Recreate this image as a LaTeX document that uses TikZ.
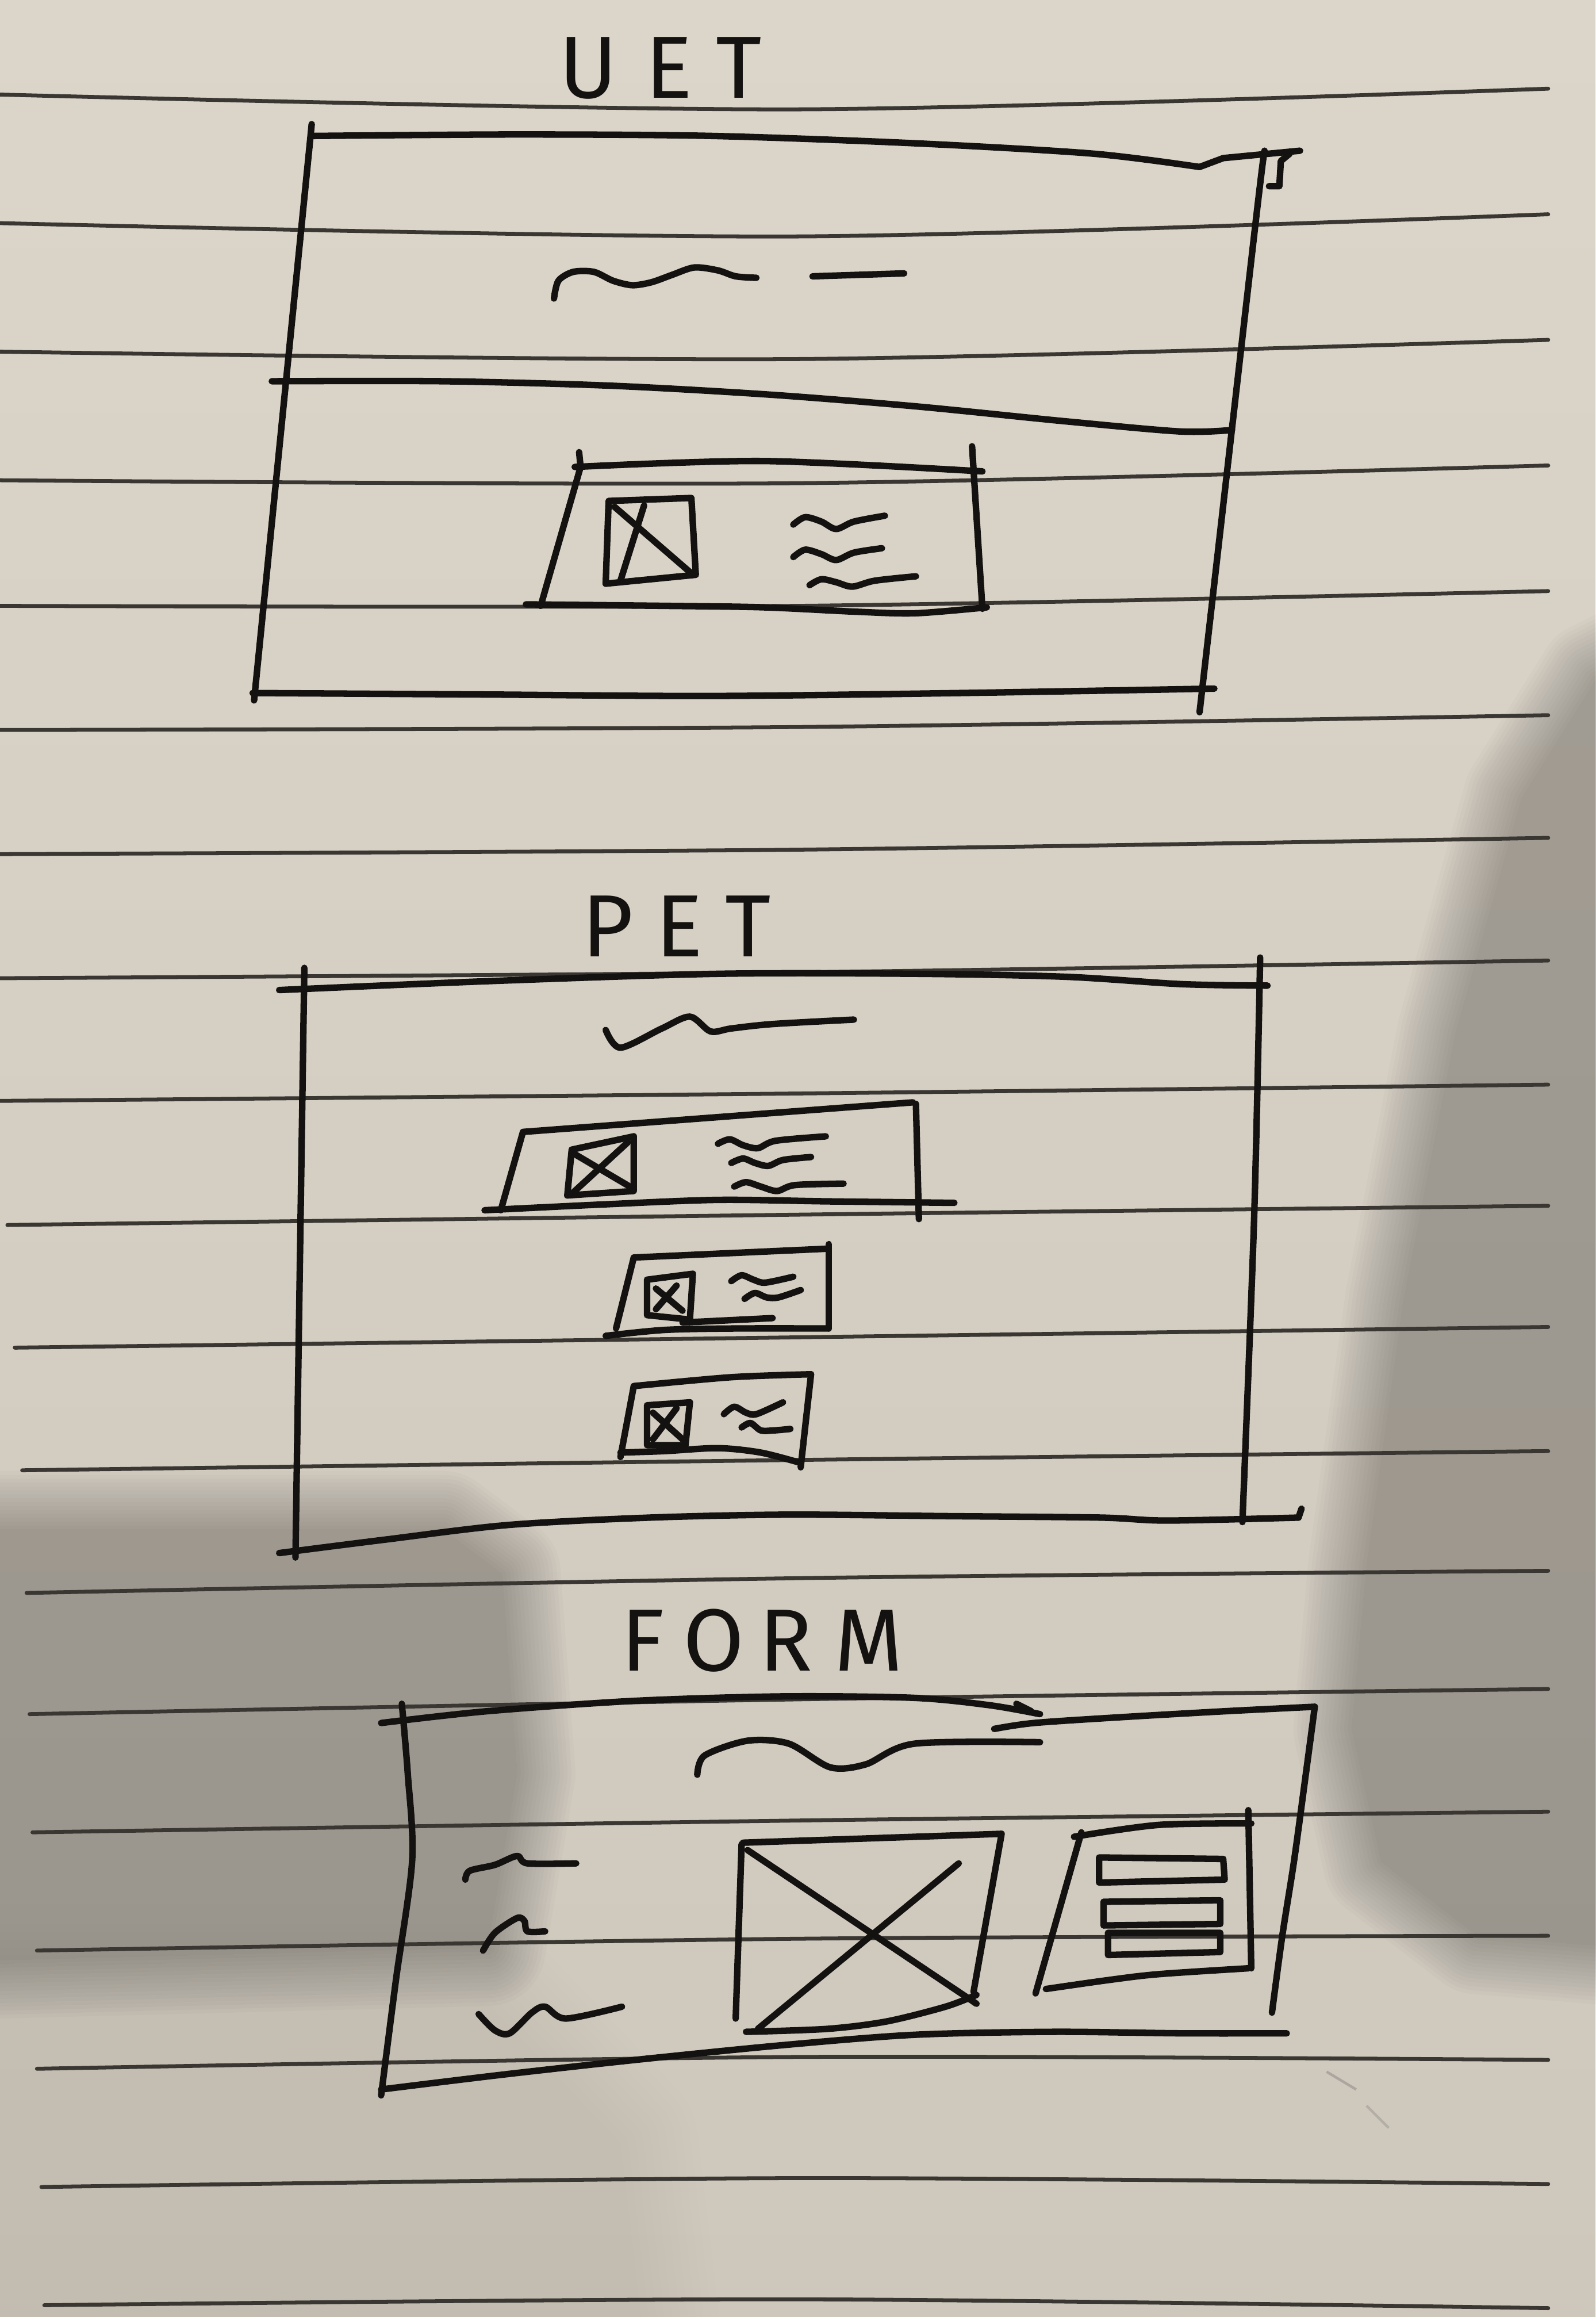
\documentclass[tikz,border=0pt]{standalone}
\usepackage{fontspec}
\setmainfont{Fira Sans}
\definecolor{papertop}{HTML}{DCD5C9}
\definecolor{paperbot}{HTML}{CEC7BB}
\definecolor{inkc}{HTML}{141210}
\definecolor{rulec}{HTML}{3A3733}
\tikzset{
  ink/.style={draw=inkc, line width=2.5pt, line cap=round, line join=round},
  rule/.style={draw=rulec, line width=1.5pt, line cap=round},
  title/.style={text=inkc, font=\fontsize{34}{34}\selectfont, inner sep=0pt},
  shade layer/.style={fill=black, draw=black, line join=round},
}
\begin{document}
\begin{tikzpicture}[x=0.02cm,y=-0.02cm]
\useasboundingbox (0,0) rectangle (1080,1568);
% paper
\shade[top color=papertop, bottom color=paperbot] (0,0) rectangle (1080,1568);
% soft shadows: one outline stacked with growing borders, each layer faint
\foreach \w in {0,3,...,45} {
  \begin{scope}[transparency group, opacity=0.015]
  \filldraw[shade layer, line width=\w pt]
    (1120,440) -- (1080,460) -- (1030,540) -- (985,700) -- (950,880) -- (925,1060)
    -- (915,1170) -- (935,1260) -- (1000,1310) -- (1120,1320) -- cycle;
  \end{scope}
  \begin{scope}[transparency group, opacity=0.017]
  \filldraw[shade layer, line width=\w pt]
    (-60,1035) -- (300,1035) -- (340,1065) -- (350,1200) -- (330,1318) -- (-60,1328) -- cycle;
  \end{scope}
}
\foreach \w in {0,6,...,60} {
  \begin{scope}[transparency group, opacity=0.005]
  \filldraw[shade layer, line width=\w pt]
    (-60,1355) -- (330,1355) -- (420,1450) -- (440,1620) -- (-60,1620) -- cycle;
  \end{scope}
}

% ruled lines of the notebook
\foreach \xs/\yl/\ym/\yr in {0/64/74/60, 0/151/160/145, 0/238/243/230, 0/325/327/315,
  0/410/410/400, 0/494/492/484, 0/578/575/567, 0/662/658/650, 0/745/740/734,
  5/829/822/816, 10/912/905/898, 15/995/988/982, 18/1078/1068/1063,
  20/1160/1150/1143, 22/1240/1232/1226, 25/1320/1312/1310, 25/1400/1392/1394,
  28/1480/1474/1478, 30/1560/1556/1562}
  \draw[rule] plot[smooth] coordinates {(\xs,\yl) (540,\ym) (1048,\yr)};

% ---------- UET ----------
\node[title] (uet) at (447,46) {U\hspace{0.38cm}E\hspace{0.32cm}T};
\draw[ink] plot[smooth] coordinates {(212,92) (350,91) (482,92) (620,97) (740,104) (812,113)};
\draw[ink] (812,113) -- (828,107) -- (880,102);
\draw[ink] (873,104) -- (867,109) -- (866,126) -- (859,126);
\draw[ink] (211,84) -- (172,474);
\draw[ink] plot[smooth] coordinates {(856,102) (850,150) (812,482)};
\draw[ink] plot[smooth] coordinates {(171,469) (330,470) (482,471) (650,469) (822,466)};
\draw[ink] plot[smooth] coordinates {(184,258) (300,258) (413,261) (520,267) (620,275) (720,285) (799,292) (834,291)};
\draw[ink] plot[smooth] coordinates {(375,202) (378,190) (388,184) (402,184) (415,190) (428,193) (441,191) (455,186) (470,181) (486,183) (498,187) (512,188)};
\draw[ink] (550,187) -- (612,185);
% card
\draw[ink] plot[smooth] coordinates {(389,316) (517,312) (665,319)};
\draw[ink] (392,306) -- (393,316) -- (366,410);
\draw[ink] (658,302) -- (665,412);
\draw[ink] plot[smooth] coordinates {(356,409) (450,410) (517,411) (580,414) (620,415) (668,411)};
\draw[ink] (412,339) -- (468,337) -- (471,389) -- (410,395) -- cycle;
\draw[ink] (416,343) -- (468,388);
\draw[ink] (420,393) -- (436,342);
\draw[ink] plot[smooth] coordinates {(537,355) (545,350) (556,353) (566,358) (578,353) (599,349)};
\draw[ink] plot[smooth] coordinates {(537,377) (545,372) (556,375) (566,379) (578,374) (597,371)};
\draw[ink] plot[smooth] coordinates {(548,396) (556,392) (566,394) (577,397) (592,393) (620,390)};

% ---------- PET ----------
\node[title] (pet) at (458,627) {P\hspace{0.3cm}E\hspace{0.3cm}T};
\draw[ink] plot[smooth] coordinates {(189,670) (330,664) (486,659) (620,659) (721,661) (800,666) (858,667)};
\draw[ink] (206,655) -- (200,1054);
\draw[ink] plot[smooth] coordinates {(853,648) (849,822) (841,1030)};
\draw[ink] plot[smooth] coordinates {(189,1051) (260,1042) (344,1032) (440,1027) (533,1025) (640,1026) (745,1027) (790,1029) (879,1027)};
\draw[ink] (879,1027) -- (881,1021);
\draw[ink] plot[smooth] coordinates {(410,697) (420,709) (448,696) (467,688) (481,698) (495,696) (523,693) (578,690)};
% card 1
\draw[ink] (354,766) -- (618,746);
\draw[ink] (354,766) -- (339,819);
\draw[ink] (620,747) -- (622,825);
\draw[ink] plot[smooth] coordinates {(328,819) (410,815) (486,812) (560,813) (646,814)};
\draw[ink] (387,778) -- (429,769) -- (429,806) -- (384,809) -- cycle;
\draw[ink] (389,781) -- (428,804);
\draw[ink] (388,807) -- (425,773);
\draw[ink] plot[smooth] coordinates {(486,774) (494,771) (503,775) (513,777) (525,772) (559,769)};
\draw[ink] plot[smooth] coordinates {(495,787) (503,784) (511,787) (520,789) (530,785) (549,783)};
\draw[ink] plot[smooth] coordinates {(497,803) (505,800) (515,803) (526,806) (538,802) (571,801)};
% card 2
\draw[ink] (429,851) -- (561,845);
\draw[ink] (429,851) -- (417,899);
\draw[ink] (561,842) -- (561,899);
\draw[ink] plot[smooth] coordinates {(410,904) (450,900) (500,899) (561,899)};
\draw[ink] (462,895) -- (523,892);
\draw[ink] (438,866) -- (469,862) -- (467,893) -- (438,890) -- cycle;
\draw[ink] (444,872) -- (462,887);
\draw[ink] (444,886) -- (458,870);
\draw[ink] plot[smooth] coordinates {(495,867) (502,863) (510,866) (518,868) (537,864)};
\draw[ink] plot[smooth] coordinates {(504,879) (511,875) (519,878) (527,878) (542,873)};
% card 3
\draw[ink] plot[smooth] coordinates {(429,938) (495,932) (549,930)};
\draw[ink] (429,938) -- (420,986);
\draw[ink] (549,930) -- (542,993);
\draw[ink] plot[smooth] coordinates {(420,983) (450,982) (486,980) (515,983) (542,990)};
\draw[ink] (438,951) -- (467,949) -- (464,978) -- (438,978) -- cycle;
\draw[ink] (442,956) -- (462,974);
\draw[ink] (442,974) -- (458,953);
\draw[ink] plot[smooth] coordinates {(490,957) (497,952) (505,956) (512,957) (530,949)};
\draw[ink] plot[smooth] coordinates {(502,966) (508,963) (515,968) (524,968) (535,967)};

% ---------- FORM ----------
\node[title] (form) at (516,1110) {F\hspace{0.25cm}O\hspace{0.2cm}R\hspace{0.3cm}M};
\draw[ink] plot[smooth] coordinates {(258,1166) (330,1158) (430,1151) (530,1148) (619,1149) (670,1154) (704,1160)};
\draw[ink] (688,1153) -- (698,1158);
\draw[ink] plot[smooth] coordinates {(673,1170) (700,1166) (760,1162) (830,1158) (890,1155)};
\draw[ink] plot[smooth] coordinates {(890,1155) (884,1200) (876,1259) (868,1310) (861,1362)};
\draw[ink] plot[smooth] coordinates {(272,1153) (276,1200) (279,1259) (268,1340) (258,1418)};
\draw[ink] plot[smooth] coordinates {(258,1414) (340,1404) (430,1394) (530,1384) (619,1377) (713,1375) (800,1376) (871,1376)};
\draw[ink] plot[smooth] coordinates {(472,1201) (477,1188) (506,1178) (534,1180) (562,1196) (586,1194) (619,1180) (704,1179)};
% field labels
\draw[ink] plot[smooth] coordinates {(315,1272) (318,1266) (335,1262) (350,1256) (357,1261) (390,1261)};
\draw[ink] plot[smooth] coordinates {(327,1320) (335,1308) (350,1298) (355,1300) (357,1307) (369,1307)};
\draw[ink] plot[smooth] coordinates {(324,1363) (335,1374) (345,1376) (360,1362) (369,1358) (383,1366) (421,1358)};
% image placeholder
\draw[ink] (503,1247) -- (678,1241) -- (659,1348);
\draw[ink] (502,1248) -- (498,1366);
\draw[ink] plot[smooth] coordinates {(505,1375) (560,1373) (600,1368) (640,1358) (661,1350)};
\draw[ink] (506,1252) -- (661,1356);
\draw[ink] (513,1373) -- (649,1261);
% side panel
\draw[ink] plot[smooth] coordinates {(727,1243) (784,1235) (847,1234)};
\draw[ink] (732,1240) -- (701,1349);
\draw[ink] (845,1225) -- (847,1332);
\draw[ink] plot[smooth] coordinates {(708,1346) (750,1340) (784,1336) (845,1332)};
\draw[ink] (744,1257) -- (828,1258) -- (829,1272) -- (744,1274) -- cycle;
\draw[ink] (747,1287) -- (826,1286) -- (826,1302) -- (747,1303) -- cycle;
\draw[ink] (750,1308) -- (826,1308) -- (826,1321) -- (750,1323) -- cycle;
% pencil smudge
\draw[rulec!60, opacity=0.5, line width=1pt] (898,1402) -- (918,1414);
\draw[rulec!60, opacity=0.4, line width=1pt] (925,1425) -- (940,1440);
\end{tikzpicture}
\end{document}
